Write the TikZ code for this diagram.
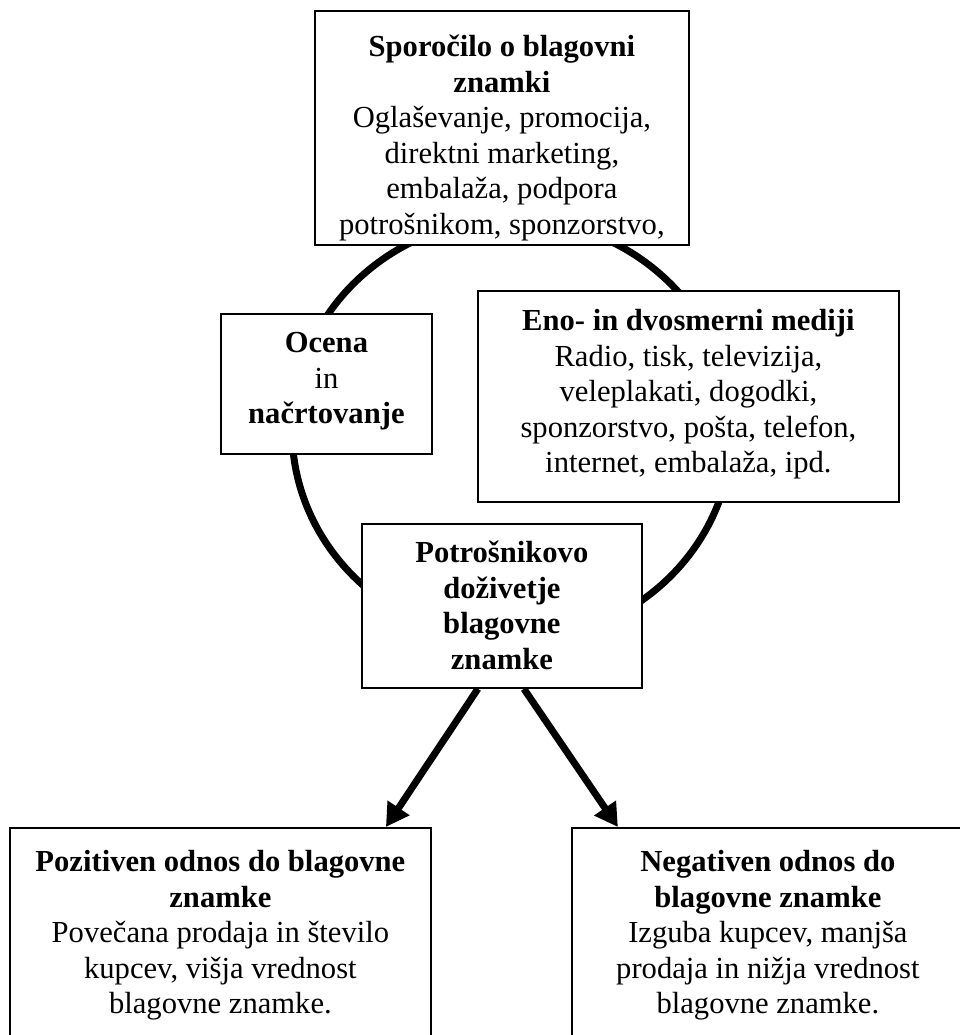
\documentclass[tikz,border=0pt]{standalone}
\usepackage{fontspec}
\setmainfont{Liberation Serif}
\usetikzlibrary{arrows.meta}

% fixed-size box body: width, height, top-to-first-baseline, lines
\newcommand{\boxbody}[4]{\parbox[c][#2][t]{#1}{\centering\rule{0pt}{#3}#4\par}}

\tikzset{
  panel/.style={draw, line width=1.8pt, fill=white, inner sep=0pt,
    anchor=north west, font={\fontsize{30.6}{35.5}\selectfont}},
  ring/.style={line width=7pt},
  flow/.style={line width=7pt, -{Triangle[length=23pt,width=25pt]}},
}

\begin{document}
\begin{tikzpicture}[x=1pt, y=-1pt]
  \useasboundingbox (0,0) rectangle (960,1035);
  \fill[white] (0,0) rectangle (960,1035);
  \clip (0,0) rectangle (960,1035);

  % communication cycle
  \draw[ring] (512,430) ellipse [x radius=220pt, y radius=211pt];

  \node[panel] (msg) at (314,10) {\boxbody{374pt}{234pt}{46pt}{%
    \textbf{Sporočilo o blagovni}\\\textbf{znamki}\\
    Oglaševanje, promocija,\\direktni marketing,\\
    embalaža, podpora\\potrošnikom, sponzorstvo,}};

  \node[panel] (plan) at (220,313) {\boxbody{211pt}{140pt}{39pt}{%
    \textbf{Ocena}\\in\\\textbf{načrtovanje}}};

  \node[panel] (media) at (477,290) {\boxbody{421pt}{211pt}{40pt}{%
    \textbf{Eno- in dvosmerni mediji}\\Radio, tisk, televizija,\\
    veleplakati, dogodki,\\sponzorstvo, pošta, telefon,\\
    internet, embalaža, ipd.}};

  \node[panel] (exp) at (361,523) {\boxbody{280pt}{164pt}{39pt}{%
    \textbf{Potrošnikovo}\\\textbf{doživetje}\\\textbf{blagovne}\\\textbf{znamke}}};

  \node[panel] (pos) at (9,827) {\boxbody{421pt}{240pt}{44pt}{%
    \textbf{Pozitiven odnos do blagovne}\\\textbf{znamke}\\
    Povečana prodaja in število\\kupcev, višja vrednost\\blagovne znamke.}};

  \node[panel] (neg) at (571,827) {\boxbody{392pt}{240pt}{44pt}{%
    \textbf{Negativen odnos do}\\\textbf{blagovne znamke}\\
    Izguba kupcev, manjša\\prodaja in nižja vrednost\\blagovne znamke.}};

  % outcomes
  \draw[flow] ([xshift=-24pt]exp.south) -- ([xshift=165.5pt]pos.north);
  \draw[flow] ([xshift=22pt]exp.south) -- ([xshift=-150pt]neg.north);
\end{tikzpicture}
\end{document}
